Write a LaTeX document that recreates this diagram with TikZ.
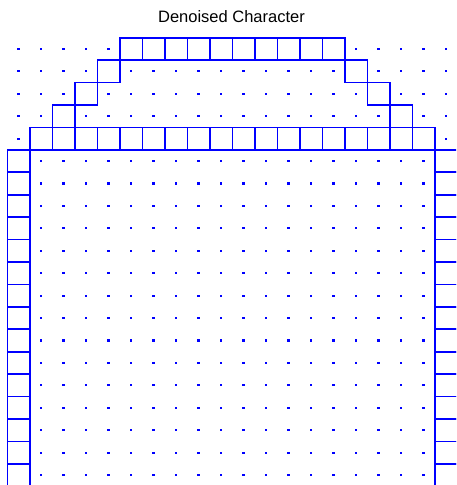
\documentclass[tikz,border=0pt]{standalone}
\usepackage{fontspec}
\setmainfont{Liberation Sans}
\definecolor{mblue}{RGB}{0,0,255}
\newcommand\cw{22.5}
\newcommand\ch{22.43}
\newcommand\xo{7.3}
\newcommand\yo{37.7}
\newcommand\cellsq[2]{\draw[cellbox] ({\xo+\cw*(#1)},{\yo+\ch*(#2)}) rectangle ++(\cw,\ch);}
\newcommand\dotat[2]{\fill[dotmark] ({\xo+\cw*((#1)+0.5)-1.1},{\yo+\ch*((#2)+0.5)-1.1}) rectangle ++(2.2,2.2);}
\begin{document}
\begin{tikzpicture}[x=1pt,y=-1pt,
  cellbox/.style={color=mblue,line width=1.6pt},
  dotmark/.style={color=mblue}]
\useasboundingbox (0,0) rectangle (456,485);
\clip (0,0) rectangle (456,485);
\node[font=\fontsize{16.5}{18}\selectfont, anchor=base, inner sep=0pt] (title) at (231.5,22.5) {Denoised Character};
% filled cells
\foreach \i in {5,...,14} {\cellsq{\i}{0}}
\foreach \j/\a/\b in {1/4/15,2/3/16,3/2/17} {\cellsq{\a}{\j}\cellsq{\b}{\j}}
\foreach \i in {1,...,18} {\cellsq{\i}{4}}
\foreach \j in {5,...,19} {\cellsq{0}{\j}\cellsq{19}{\j}}
% dots
\foreach \i in {0,...,4} {\dotat{\i}{0}}
\foreach \i in {15,...,19} {\dotat{\i}{0}}
\foreach \j in {1,2,3} {
  \pgfmathtruncatemacro\la{4-\j}
  \pgfmathtruncatemacro\ma{6-\j}
  \pgfmathtruncatemacro\mb{13+\j}
  \pgfmathtruncatemacro\ra{15+\j}
  \foreach \i in {0,...,\la} {\dotat{\i}{\j}}
  \foreach \i in {\ma,...,\mb} {\dotat{\i}{\j}}
  \foreach \i in {\ra,...,19} {\dotat{\i}{\j}}
}
\dotat{0}{4}
\dotat{19}{4}
\foreach \j in {5,...,19} {\foreach \i in {1,...,18} {\dotat{\i}{\j}}}
\end{tikzpicture}
\end{document}
